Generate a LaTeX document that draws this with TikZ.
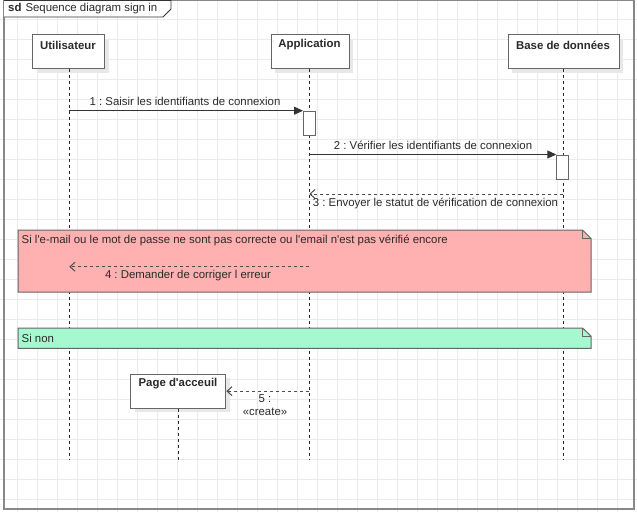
\documentclass[tikz,border=0pt]{standalone}
\usepackage{fontspec}
\setmainfont{Liberation Sans}
\usetikzlibrary{arrows.meta,shadows}
\frenchspacing
\newcommand{\apos}{\textquotesingle}
\definecolor{gridgray}{HTML}{EBEBEB}
\definecolor{framegray}{HTML}{888888}
\definecolor{boxgray}{HTML}{666666}
\definecolor{inkgray}{HTML}{2A2A2A}
\definecolor{altpink}{HTML}{FFB0B0}
\definecolor{elsegreen}{HTML}{A6F8D0}
\begin{document}
\begin{tikzpicture}[x=1pt,y=-1pt,
  every node/.style={font=\fontsize{11.4}{13.4}\selectfont, text=inkgray, inner sep=0pt},
  headbox/.style={draw=boxgray, line width=1.3pt, fill=white, anchor=north west,
    drop shadow={shadow xshift=4pt, shadow yshift=-4pt, fill=black!9, opacity=1}},
  actbox/.style={draw=boxgray, line width=1pt, fill=white, anchor=north west},
  lifeline/.style={draw=inkgray, line width=0.9pt, dash pattern=on 3pt off 3pt},
  callmsg/.style={draw=black!80, line width=1pt, -{Triangle[length=9pt,width=8pt]}},
  replymsg/.style={draw=black!70, line width=1pt, dash pattern=on 3pt off 3pt,
    -{Straight Barb[length=5pt,width=9pt,line width=1pt]}},
  msglabel/.style={fill=none},
  notebox/.style={draw=boxgray, line width=1pt}]
\useasboundingbox (0,0) rectangle (637,512);
\fill[white] (0,0) rectangle (637,512);
% background grid
\foreach \gx in {-2.5,17.5,...,637} \draw[gridgray, line width=0.8pt] (\gx,0) -- (\gx,512);
\foreach \gy in {-0.5,19.5,...,512} \draw[gridgray, line width=0.8pt] (0,\gy) -- (637,\gy);
% frame with its pentagon tag
\draw[framegray, line width=1.6pt] (4,0.5) rectangle (634,509);
\draw[black!80, line width=0.9pt, fill=white] (4,0.5) -- (171,0.5) -- (171,9) -- (163,17) -- (4,17);
\node[anchor=west] (title) at (8,8.5) {\textbf{sd}\hspace{4pt}Sequence diagram sign in};
% lifeline heads
\node[headbox, minimum width=72pt, minimum height=34pt] (user) at (32,34) {};
\node[headbox, minimum width=78pt, minimum height=34pt] (app) at (270.5,34) {};
\node[headbox, minimum width=111pt, minimum height=34pt] (db) at (507.5,34) {};
\node[anchor=center] (userlbl) at (68,45) {\textbf{Utilisateur}};
\node[anchor=center] (applbl) at (309.5,45) {\textbf{Application}};
\node[anchor=center] (dblbl) at (563,45) {\textbf{Base de données}};
% lifeline ends
\coordinate (userend) at (69.3,460);
\coordinate (append) at (309.3,460);
\coordinate (dbend) at (563.3,460);
\draw[lifeline] (userend |- user.south) -- (userend);
\draw[lifeline] (append |- app.south) -- (append);
\draw[lifeline] (dbend |- db.south) -- (dbend);
% created participant
\node[headbox, minimum width=95pt, minimum height=34pt] (page) at (130,373.5) {};
\node[anchor=center] (pagelbl) at (178,384) {\textbf{Page d\apos acceuil}};
\coordinate (pageend) at (178.7,460);
\draw[lifeline] (pageend |- page.south) -- (pageend);
% activations
\node[actbox, minimum width=12pt, minimum height=24.5pt] (act1) at (303,110.7) {};
\node[actbox, minimum width=12pt, minimum height=24.5pt] (act2) at (556.3,154.5) {};
% messages 1 to 3
\draw[callmsg] (userend |- act1.north west) -- (act1.north west);
\node[msglabel] (m1) at (185,101.5) {1 : Saisir les identifiants de connexion};
\draw[callmsg] (append |- act2.north west) -- (act2.north west);
\node[msglabel] (m2) at (433,145.5) {2 : Vérifier les identifiants de connexion};
\coordinate (m3a) at (563.3,194);
\draw[replymsg] (m3a) -- (append |- m3a);
\node[msglabel] (m3) at (435.5,203.5) {3 : Envoyer le statut de vérification de connexion};
% alternative: invalid credentials
\draw[notebox, fill=altpink] (18,230) -- (582.5,230) -- (591,238.5) -- (591,292) -- (18,292) -- cycle;
\draw[notebox] (582.5,230) -- (582.5,238.5) -- (591,238.5);
\node[anchor=west] (altcond) at (21.5,240) {Si l\apos e-mail ou le mot de passe ne sont pas correcte ou l\apos email n\apos est pas vérifié encore};
\coordinate (m4a) at (309.3,266.7);
\draw[replymsg] (m4a) -- (userend |- m4a);
\node[msglabel] (m4) at (188,275.5) {4 : Demander de corriger l erreur};
% alternative: otherwise
\draw[notebox, fill=elsegreen] (18,328) -- (582.5,328) -- (591,336) -- (591,348.3) -- (18,348.3) -- cycle;
\draw[notebox] (582.5,328) -- (582.5,336) -- (591,336);
\node[anchor=west] (elsecond) at (21.5,338) {Si non};
% message 5: creation
\draw[replymsg] (append |- page.east) -- (page.east);
\node[msglabel, align=center] (m5) at (265,405) {5 :\\[-1pt]«create»};
\end{tikzpicture}
\end{document}
